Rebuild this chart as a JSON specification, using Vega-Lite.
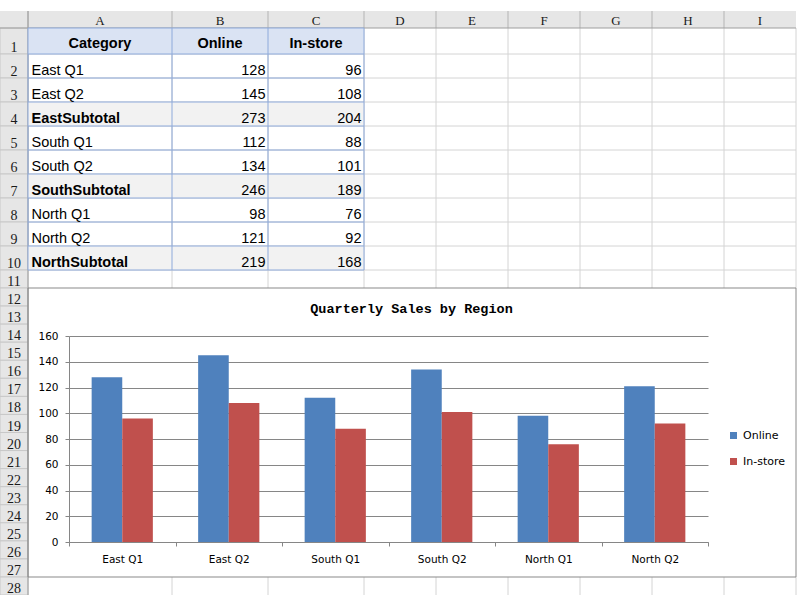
{
  "$schema": "https://vega.github.io/schema/vega-lite/v6.json",
  "width": 797,
  "height": 595,
  "autosize": {"type": "none"},
  "padding": 0,
  "background": "white",
  "title": {
    "text": "Quarterly Sales by Region",
    "font": "Liberation Mono", "fontSize": 13.5, "fontWeight": "bold", "color": "black",
    "anchor": "middle", "frame": "group", "baseline": "alphabetic", "offset": 0,
    "dx": 13, "dy": 326
  },
  "datasets": {
    "cols": [
      {"c": 0, "l": ""}, {"c": 1, "l": "A"}, {"c": 2, "l": "B"}, {"c": 3, "l": "C"}, {"c": 4, "l": "D"},
      {"c": 5, "l": "E"}, {"c": 6, "l": "F"}, {"c": 7, "l": "G"}, {"c": 8, "l": "H"}, {"c": 9, "l": "I"}
    ],
    "rows": [
      {"r": 1}, {"r": 2}, {"r": 3}, {"r": 4}, {"r": 5}, {"r": 6}, {"r": 7}, {"r": 8}, {"r": 9}, {"r": 10},
      {"r": 11}, {"r": 12}, {"r": 13}, {"r": 14}, {"r": 15}, {"r": 16}, {"r": 17}, {"r": 18}, {"r": 19},
      {"r": 20}, {"r": 21}, {"r": 22}, {"r": 23}, {"r": 24}, {"r": 25}, {"r": 26}, {"r": 27}, {"r": 28}
    ],
    "head": [
      {"c": 1, "h": "Category"}, {"c": 2, "h": "Online"}, {"c": 3, "h": "In-store"}
    ],
    "table": [
      {"r": 2, "Category": "East Q1", "Online": 128, "In-store": 96, "sub": false},
      {"r": 3, "Category": "East Q2", "Online": 145, "In-store": 108, "sub": false},
      {"r": 4, "Category": "EastSubtotal", "Online": 273, "In-store": 204, "sub": true},
      {"r": 5, "Category": "South Q1", "Online": 112, "In-store": 88, "sub": false},
      {"r": 6, "Category": "South Q2", "Online": 134, "In-store": 101, "sub": false},
      {"r": 7, "Category": "SouthSubtotal", "Online": 246, "In-store": 189, "sub": true},
      {"r": 8, "Category": "North Q1", "Online": 98, "In-store": 76, "sub": false},
      {"r": 9, "Category": "North Q2", "Online": 121, "In-store": 92, "sub": false},
      {"r": 10, "Category": "NorthSubtotal", "Online": 219, "In-store": 168, "sub": true}
    ]
  },
  "layer": [
    {
      "layer": [
        {
          "data": {"name": "cols"},
          "transform": [{"calculate": "datum.c + 1", "as": "c1"}],
          "mark": {"type": "rect", "fill": "#e6e6e6"},
          "encoding": {
            "x": {"field": "c", "type": "quantitative", "axis": null,
                  "scale": {"domain": [0, 1, 2, 3, 4, 10], "range": [0, 28, 172, 268, 364, 796], "nice": false, "zero": false}},
            "x2": {"field": "c1"},
            "y": {"datum": 0, "type": "quantitative", "axis": null,
                  "scale": {"domain": [-1, 0, 1, 2, 11, 12, 28, 29], "range": [0, 11, 28, 54, 270, 288, 577, 595], "nice": false, "zero": false}},
            "y2": {"datum": 1}
          }
        },
        {
          "data": {"name": "rows"},
          "transform": [{"calculate": "datum.r + 1", "as": "r1"}],
          "mark": {"type": "rect", "fill": "#e6e6e6", "stroke": "#c8c8c8", "strokeWidth": 1},
          "encoding": {
            "x": {"datum": 0, "type": "quantitative", "axis": null},
            "x2": {"datum": 1},
            "y": {"field": "r", "type": "quantitative", "axis": null},
            "y2": {"field": "r1"}
          }
        },
        {
          "data": {"name": "rows"},
          "transform": [{"filter": "datum.r >= 2 && datum.r <= 11"}],
          "mark": {"type": "rule", "color": "#d4d4d4"},
          "encoding": {
            "x": {"datum": 1, "type": "quantitative", "axis": null},
            "x2": {"datum": 10},
            "y": {"field": "r", "type": "quantitative", "axis": null}
          }
        },
        {
          "data": {"name": "cols"},
          "transform": [{"filter": "datum.c >= 1"}, {"calculate": "datum.c + 1", "as": "c1"}],
          "mark": {"type": "rule", "color": "#d4d4d4"},
          "encoding": {
            "x": {"field": "c1", "type": "quantitative", "axis": null},
            "y": {"datum": 1, "type": "quantitative", "axis": null},
            "y2": {"datum": 12}
          }
        },
        {
          "data": {"name": "cols"},
          "transform": [{"filter": "datum.c >= 1"}, {"calculate": "datum.c + 1", "as": "c1"}],
          "mark": {"type": "rule", "color": "#d4d4d4"},
          "encoding": {
            "x": {"field": "c1", "type": "quantitative", "axis": null},
            "y": {"datum": 28, "type": "quantitative", "axis": null},
            "y2": {"datum": 29}
          }
        },
        {
          "data": {"name": "cols"},
          "transform": [{"filter": "datum.c >= 1"}],
          "mark": {"type": "rule", "color": "#b4b4b4"},
          "encoding": {
            "x": {"field": "c", "type": "quantitative", "axis": null},
            "y": {"datum": 0, "type": "quantitative", "axis": null},
            "y2": {"datum": 1}
          }
        },
        {
          "data": {"values": [{}]},
          "mark": {"type": "rule", "color": "#9e9e9e"},
          "encoding": {
            "x": {"datum": 0, "type": "quantitative", "axis": null},
            "x2": {"datum": 10},
            "y": {"datum": 1, "type": "quantitative", "axis": null}
          }
        },
        {
          "data": {"values": [{}]},
          "mark": {"type": "rule", "color": "#9e9e9e"},
          "encoding": {
            "x": {"datum": 1, "type": "quantitative", "axis": null},
            "y": {"datum": 0, "type": "quantitative", "axis": null},
            "y2": {"datum": 29}
          }
        },
        {
          "data": {"name": "head"},
          "transform": [{"calculate": "datum.c + 1", "as": "c1"}],
          "mark": {"type": "rect", "fill": "#dae3f3"},
          "encoding": {
            "x": {"field": "c", "type": "quantitative", "axis": null},
            "x2": {"field": "c1"},
            "y": {"datum": 1, "type": "quantitative", "axis": null},
            "y2": {"datum": 2}
          }
        },
        {
          "data": {"name": "table"},
          "transform": [{"filter": "datum.sub"}, {"calculate": "datum.r + 1", "as": "r1"}],
          "mark": {"type": "rect", "fill": "#f2f2f2"},
          "encoding": {
            "x": {"datum": 1, "type": "quantitative", "axis": null},
            "x2": {"datum": 4},
            "y": {"field": "r", "type": "quantitative", "axis": null},
            "y2": {"field": "r1"}
          }
        },
        {
          "data": {"name": "rows"},
          "transform": [{"filter": "datum.r >= 1 && datum.r <= 11"}],
          "mark": {"type": "rule", "color": "#8eaadb"},
          "encoding": {
            "x": {"datum": 1, "type": "quantitative", "axis": null},
            "x2": {"datum": 4},
            "y": {"field": "r", "type": "quantitative", "axis": null}
          }
        },
        {
          "data": {"name": "head"},
          "mark": {"type": "rule", "color": "#8eaadb"},
          "encoding": {
            "x": {"field": "c", "type": "quantitative", "axis": null},
            "y": {"datum": 1, "type": "quantitative", "axis": null},
            "y2": {"datum": 11}
          }
        },
        {
          "data": {"name": "head"},
          "transform": [{"filter": "datum.c == 3"}, {"calculate": "datum.c + 1", "as": "c1"}],
          "mark": {"type": "rule", "color": "#8eaadb"},
          "encoding": {
            "x": {"field": "c1", "type": "quantitative", "axis": null},
            "y": {"datum": 1, "type": "quantitative", "axis": null},
            "y2": {"datum": 11}
          }
        },
        {
          "data": {"name": "cols"},
          "transform": [{"filter": "datum.c >= 1"}, {"calculate": "datum.c + 0.5", "as": "cm"}],
          "mark": {"type": "text", "font": "Liberation Serif", "fontSize": 13, "color": "#1a1a1a", "align": "center", "baseline": "alphabetic", "dy": -3},
          "encoding": {
            "x": {"field": "cm", "type": "quantitative", "axis": null},
            "y": {"datum": 1, "type": "quantitative", "axis": null},
            "text": {"field": "l"}
          }
        },
        {
          "data": {"name": "rows"},
          "transform": [{"calculate": "datum.r + 1", "as": "r1"}],
          "mark": {"type": "text", "font": "Liberation Serif", "fontSize": 14, "color": "#1a1a1a", "align": "center", "baseline": "alphabetic", "dy": -2},
          "encoding": {
            "x": {"datum": 0.5, "type": "quantitative", "axis": null},
            "y": {"field": "r1", "type": "quantitative", "axis": null},
            "text": {"field": "r", "type": "quantitative"}
          }
        },
        {
          "data": {"name": "head"},
          "transform": [{"calculate": "datum.c + 0.5", "as": "cm"}],
          "mark": {"type": "text", "font": "Liberation Sans", "fontSize": 14.5, "fontWeight": "bold", "color": "black", "align": "center", "baseline": "alphabetic", "dy": -6.5},
          "encoding": {
            "x": {"field": "cm", "type": "quantitative", "axis": null},
            "y": {"datum": 2, "type": "quantitative", "axis": null},
            "text": {"field": "h"}
          }
        },
        {
          "data": {"name": "table"},
          "transform": [{"filter": "!datum.sub"}, {"calculate": "datum.r + 1", "as": "r1"}],
          "mark": {"type": "text", "font": "Liberation Sans", "fontSize": 14.5, "color": "black", "align": "left", "baseline": "alphabetic", "dx": 3.5, "dy": -3.5},
          "encoding": {
            "x": {"datum": 1, "type": "quantitative", "axis": null},
            "y": {"field": "r1", "type": "quantitative", "axis": null},
            "text": {"field": "Category"}
          }
        },
        {
          "data": {"name": "table"},
          "transform": [{"filter": "datum.sub"}, {"calculate": "datum.r + 1", "as": "r1"}],
          "mark": {"type": "text", "font": "Liberation Sans", "fontSize": 14.5, "fontWeight": "bold", "color": "black", "align": "left", "baseline": "alphabetic", "dx": 3.5, "dy": -3.5},
          "encoding": {
            "x": {"datum": 1, "type": "quantitative", "axis": null},
            "y": {"field": "r1", "type": "quantitative", "axis": null},
            "text": {"field": "Category"}
          }
        },
        {
          "data": {"name": "table"},
          "transform": [{"calculate": "datum.r + 1", "as": "r1"}],
          "mark": {"type": "text", "font": "Liberation Sans", "fontSize": 14.5, "color": "black", "align": "right", "baseline": "alphabetic", "dx": -2.5, "dy": -3.5},
          "encoding": {
            "x": {"datum": 3, "type": "quantitative", "axis": null},
            "y": {"field": "r1", "type": "quantitative", "axis": null},
            "text": {"field": "Online", "type": "quantitative"}
          }
        },
        {
          "data": {"name": "table"},
          "transform": [{"calculate": "datum.r + 1", "as": "r1"}],
          "mark": {"type": "text", "font": "Liberation Sans", "fontSize": 14.5, "color": "black", "align": "right", "baseline": "alphabetic", "dx": -2.5, "dy": -3.5},
          "encoding": {
            "x": {"datum": 4, "type": "quantitative", "axis": null},
            "y": {"field": "r1", "type": "quantitative", "axis": null},
            "text": {"field": "In-store", "type": "quantitative"}
          }
        },
        {
          "data": {"values": [{}]},
          "mark": {"type": "rect", "filled": false, "stroke": "#898989", "strokeWidth": 1},
          "encoding": {
            "x": {"datum": 1, "type": "quantitative", "axis": null},
            "x2": {"datum": 10},
            "y": {"datum": 12, "type": "quantitative", "axis": null},
            "y2": {"datum": 28}
          }
        }
      ]
    },
    {
      "data": {"name": "table"},
      "transform": [
        {"filter": "!datum.sub"},
        {"fold": ["Online", "In-store"], "as": ["Channel", "Sales"]}
      ],
      "mark": {"type": "bar"},
      "encoding": {
        "x": {
          "field": "Category", "type": "nominal", "sort": null,
          "scale": {"range": [69, 708], "paddingInner": 0, "paddingOuter": 0},
          "axis": {
            "orient": "bottom", "offset": -53, "title": null, "labelAngle": 0,
            "tickBand": "extent", "tickSize": 4, "tickColor": "#868686", "domainColor": "#868686",
            "labelFont": "DejaVu Sans", "labelFontSize": 10.5, "labelColor": "black", "labelPadding": 8, "grid": false
          }
        },
        "xOffset": {
          "field": "Channel", "type": "nominal", "sort": ["Online", "In-store"],
          "scale": {"paddingInner": 0, "paddingOuter": 0.74}
        },
        "y": {
          "field": "Sales", "type": "quantitative",
          "scale": {"domain": [0, 160], "range": [542, 336], "nice": false, "zero": true},
          "axis": {
            "orient": "left", "offset": -69, "title": null,
            "values": [0, 20, 40, 60, 80, 100, 120, 140, 160],
            "tickSize": 4, "tickColor": "#868686", "domainColor": "#868686",
            "grid": true, "gridColor": "#868686",
            "labelFont": "DejaVu Sans", "labelFontSize": 10.5, "labelColor": "black", "labelPadding": 7
          }
        },
        "color": {
          "field": "Channel", "type": "nominal", "sort": ["Online", "In-store"],
          "scale": {"domain": ["Online", "In-store"], "range": ["#4f81bd", "#c0504d"]},
          "legend": {
            "title": null, "orient": "none", "legendX": 728, "legendY": 430,
            "symbolType": "square", "symbolSize": 49, "symbolStrokeWidth": 0,
            "labelFont": "DejaVu Sans", "labelFontSize": 11, "labelColor": "black",
            "rowPadding": 14, "labelOffset": 4
          }
        }
      }
    }
  ],
  "resolve": {
    "scale": {"x": "independent", "y": "independent"},
    "axis": {"x": "independent", "y": "independent"}
  },
  "config": {
    "view": {"stroke": null}
  }
}
